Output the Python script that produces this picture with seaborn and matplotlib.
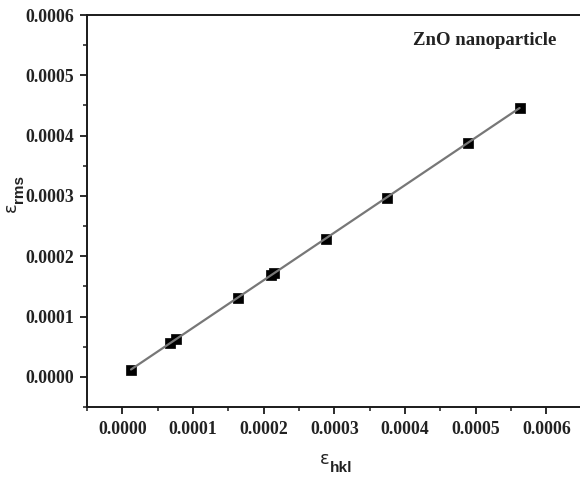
import numpy as np
import pandas as pd
import matplotlib
matplotlib.use("Agg")
import matplotlib.pyplot as plt
from matplotlib.ticker import MultipleLocator, FormatStrFormatter
import seaborn as sns

# Williamson-type strain comparison for ZnO nanoparticles
eps_hkl = [0.0000123, 0.0000680, 0.0000762, 0.0001636, 0.0002100, 0.0002150,
           0.0002880, 0.0003740, 0.0004890, 0.0005620]
eps_rms = [0.0000116, 0.0000569, 0.0000625, 0.0001310, 0.0001690, 0.0001730,
           0.0002290, 0.0002970, 0.0003880, 0.0004460]

df = pd.DataFrame({"eps_hkl": eps_hkl, "eps_rms": eps_rms})

sns.set_theme(style="ticks")

W, H = 580, 478
fig = plt.figure(figsize=(W / 100, H / 100), dpi=100)
ax = fig.add_axes([0.15, 0.1485, 0.853, 0.8201])

sns.scatterplot(data=df, x="eps_hkl", y="eps_rms", marker="s", s=42,
                color="black", edgecolor="black", linewidth=0.5, ax=ax, zorder=2)
sns.regplot(data=df, x="eps_hkl", y="eps_rms", scatter=False, ci=None,
            truncate=True, ax=ax,
            line_kws={"color": "#777777", "linewidth": 1.6, "zorder": 3})

ax.set_xlim(-0.00005, 0.00065)
ax.set_ylim(-0.00005, 0.0006)
ax.xaxis.set_major_locator(MultipleLocator(0.0001))
ax.xaxis.set_minor_locator(MultipleLocator(0.00005))
ax.yaxis.set_major_locator(MultipleLocator(0.0001))
ax.yaxis.set_minor_locator(MultipleLocator(0.00005))
ax.xaxis.set_major_formatter(FormatStrFormatter("%.4f"))
ax.yaxis.set_major_formatter(FormatStrFormatter("%.4f"))

for sp in ax.spines.values():
    sp.set_linewidth(1.4)
    sp.set_color("#1a1a1a")

ax.tick_params(which="major", direction="out", length=5, width=1.3,
               color="#1a1a1a", pad=4)
ax.tick_params(which="minor", direction="out", length=3, width=1.1,
               color="#1a1a1a")
ax.tick_params(axis="x", pad=5)

for lab in ax.get_xticklabels() + ax.get_yticklabels():
    lab.set_fontfamily("Liberation Serif")
    lab.set_fontweight("bold")
    lab.set_fontsize(12.8)
    lab.set_color("#222222")

ax.set_xlabel("")
ax.set_ylabel("")


def px(x, y):
    return x / W, 1 - y / H


# axis titles: epsilon with an enlarged bold subscript
sym_kw = dict(fontfamily="DejaVu Sans", fontsize=13, color="#222222",
              ha="left", va="baseline")
sub_kw = dict(fontfamily="Liberation Sans", fontsize=11, fontweight="bold",
              color="#222222", ha="left", va="baseline")

fig.text(*px(320, 463.5), "ε", **sym_kw)
fig.text(*px(329.5, 471.5), "hkl", **sub_kw)

fig.text(*px(15.5, 212.5), "ε", rotation=90, rotation_mode="anchor", **sym_kw)
fig.text(*px(23, 203), "rms", rotation=90, rotation_mode="anchor", **sub_kw)

ax.text(0.948, 0.936, "ZnO nanoparticle", transform=ax.transAxes,
        ha="right", va="center", fontfamily="Liberation Serif",
        fontweight="bold", fontsize=13.5, color="#222222")

fig.savefig("out.png", dpi=100)
